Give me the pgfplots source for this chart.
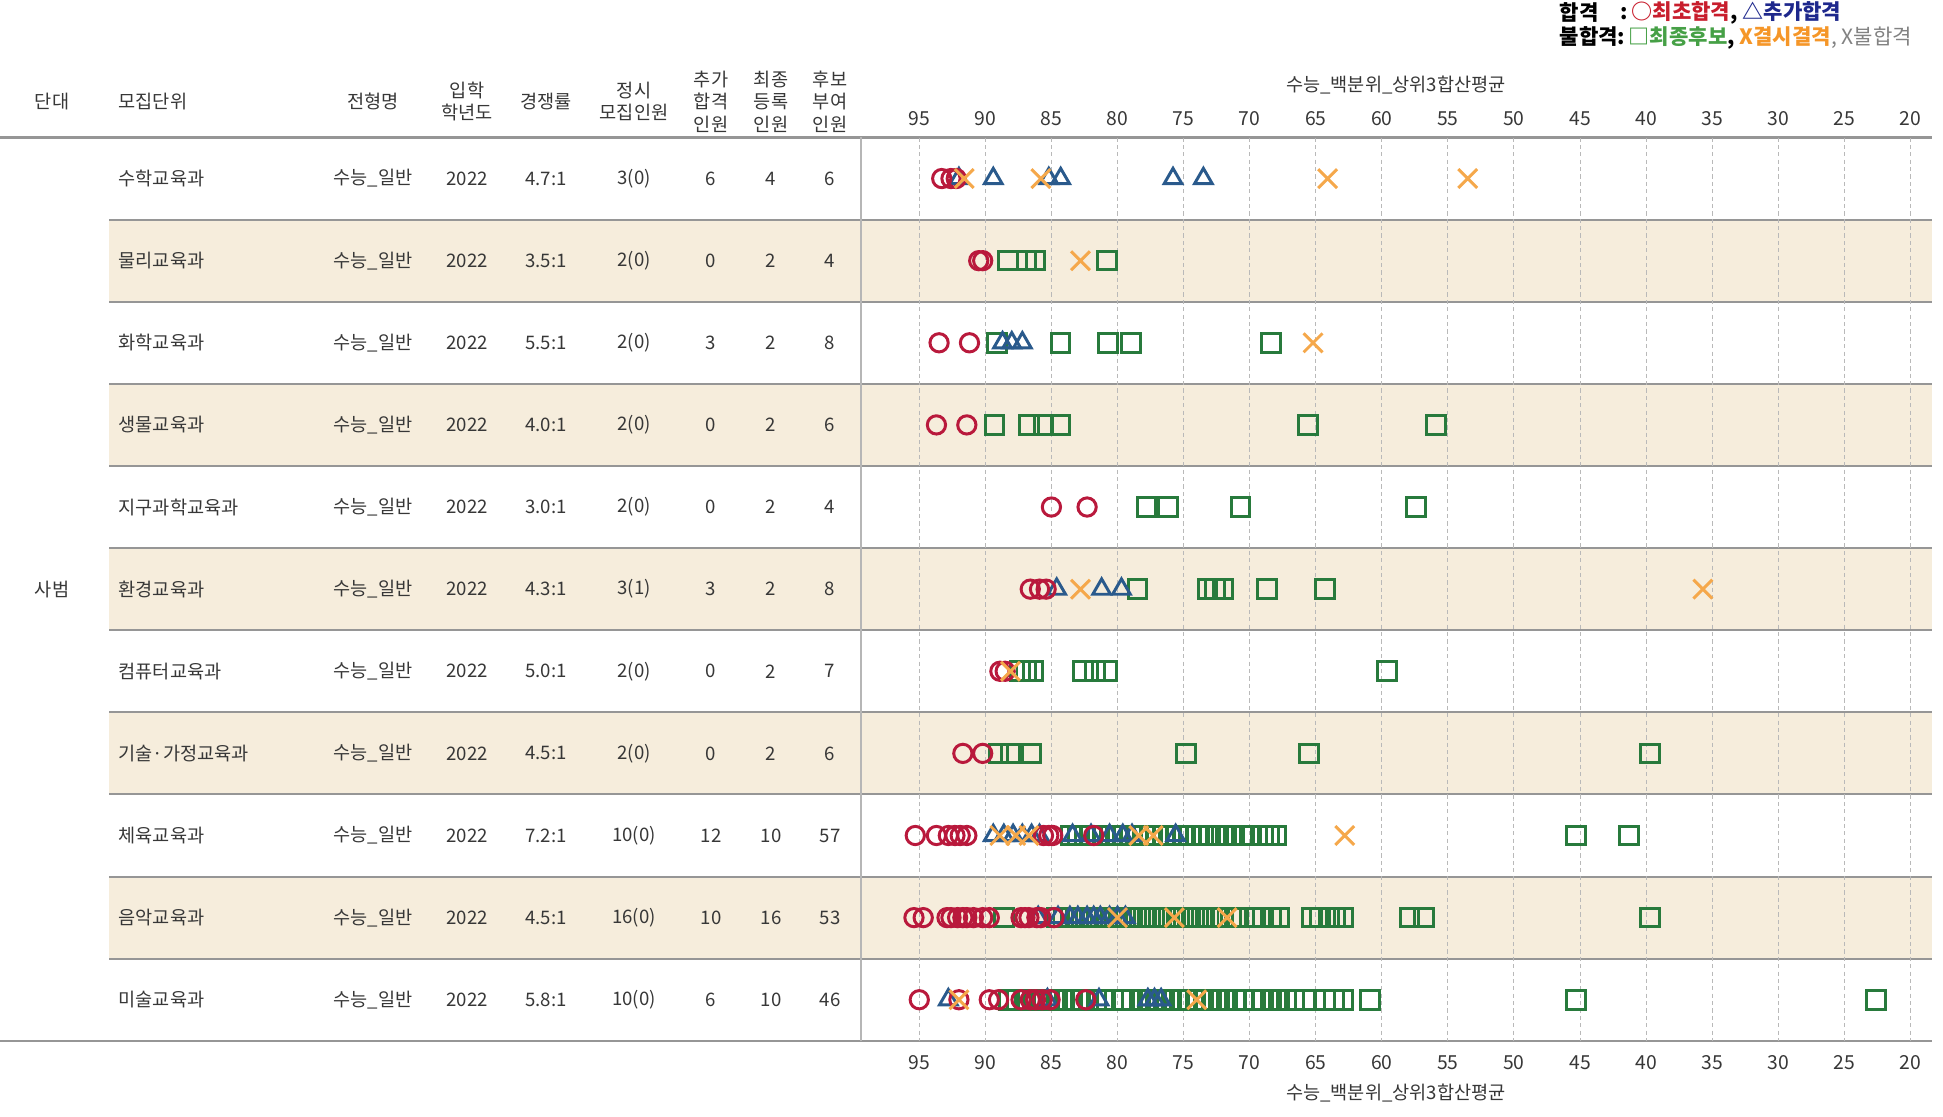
\documentclass[border=0pt]{standalone}
\usepackage{pgfplots}
\pgfplotsset{compat=1.18}
\usepackage{fontspec}
\setmainfont{Noto Sans CJK KR}
\definecolor{cred}{RGB}{185,25,60}
\definecolor{cblue}{RGB}{42,90,140}
\definecolor{cgreen}{RGB}{40,122,60}
\definecolor{corange}{RGB}{245,168,75}
\definecolor{cbeige}{RGB}{246,237,220}
\definecolor{cline}{RGB}{150,150,150}
\definecolor{cgrid}{RGB}{185,185,185}
\definecolor{ctext}{RGB}{55,55,55}
\definecolor{lred}{RGB}{200,30,45}
\definecolor{lblue}{RGB}{30,40,140}
\definecolor{lgreen}{RGB}{70,160,70}
\definecolor{lorange}{RGB}{245,150,40}
\definecolor{lgray}{RGB}{130,130,130}
\pgfplotsset{
  baseax/.style={
    at={(86.1mm,-13.75mm)}, anchor=north west,
    width=107.1mm, height=90.33mm, scale only axis,
    x dir=reverse, xmin=18.37, xmax=99.41,
    y dir=reverse, ymin=0.5, ymax=11.5,
    axis line style={draw=none},
    ytick=\empty,
    xtick={20,25,...,95},
    major tick length=0pt,
    /pgf/number format/assume math mode=true,
    clip=false,
  },
}
\begin{document}
\begin{tikzpicture}
\fontsize{5.3}{6.3}\selectfont
\begin{scope}[x=0.1mm,y=-0.1mm]
\path[use as bounding box] (0,0) rectangle (1943,1117);
\foreach \r in {2,4,6,8,10} {
  \fill[cbeige] (109,{137.5+82.12*(\r-1)}) rectangle (1932,{137.5+82.12*\r});
}
\foreach \r in {1,...,10} {
  \draw[cline, line width=0.55pt] (109,{137.5+82.12*\r}) -- (1932,{137.5+82.12*\r});
}
\draw[cline, line width=0.6pt] (0,137.5) -- (1932,137.5);
\draw[cline, line width=0.6pt] (0,1040.8) -- (1932,1040.8);
\draw[cline!70, line width=0.35pt] (861,137.5) -- (861,1040.8);
\end{scope}

\begin{axis}[baseax,
  xmajorgrids,
  major grid style={cgrid, line width=0.3pt, dash pattern=on 1.2pt off 0.9pt},
  xticklabel pos=lower,
  xticklabel style={anchor=center, yshift=-2.2mm, text=ctext, font=\fontsize{5.5}{6}\selectfont},
  only marks,
]
% squares (최종후보)
\addplot[cgreen, line width=0.85pt, mark=square, mark size=2.65pt] coordinates {
(88.3,2)(86.9,2)(86.2,2)(80.8,2)
(89.1,3)(84.3,3)(80.7,3)(79.0,3)(68.4,3)
(89.3,4)(86.7,4)(85.6,4)(84.3,4)(65.6,4)(55.9,4)
(77.8,5)(76.2,5)(70.7,5)(57.4,5)
(78.5,6)(73.2,6)(72.6,6)(72.0,6)(68.7,6)(64.3,6)
(87.4,7)(86.9,7)(86.4,7)(82.6,7)(81.7,7)(80.8,7)(59.6,7)
(89.0,8)(88.1,8)(86.5,8)(74.8,8)(65.5,8)(39.7,8)
(83.5,9)(83.0,9)(82.5,9)(82.0,9)(81.5,9)(81.0,9)(80.5,9)(80.0,9)(79.5,9)(79.0,9)(78.5,9)(78.0,9)(77.5,9)(77.0,9)(76.5,9)(76.0,9)(75.5,9)(75.0,9)(74.5,9)(74.0,9)(73.5,9)(73.0,9)(72.4,9)(71.8,9)(71.2,9)(70.6,9)(70.0,9)(69.0,9)(68.5,9)(68.0,9)(45.3,9)(41.3,9)
(88.6,10)(84.6,10)(84.1,10)(83.5,10)(83.0,10)(82.4,10)(81.9,10)(81.3,10)(80.8,10)(80.2,10)(79.7,10)(79.1,10)(78.6,10)(78.0,10)(77.5,10)(76.9,10)(76.4,10)(75.8,10)(75.3,10)(74.7,10)(74.2,10)(73.6,10)(73.1,10)(72.5,10)(72.0,10)(71.4,10)(70.9,10)(69.6,10)(69.0,10)(68.4,10)(67.8,10)(65.3,10)(64.7,10)(64.0,10)(63.5,10)(62.9,10)(57.9,10)(56.8,10)(39.7,10)
(88.2,11)(87.6,11)(87.0,11)(86.4,11)(85.8,11)(85.2,11)(84.6,11)(84.0,11)(83.4,11)(82.8,11)(82.2,11)(81.6,11)(81.1,11)(79.5,11)(78.9,11)(78.3,11)(77.7,11)(77.1,11)(76.5,11)(75.9,11)(75.3,11)(74.7,11)(74.1,11)(73.5,11)(72.9,11)(72.3,11)(71.7,11)(71.1,11)(70.5,11)(69.6,11)(69.0,11)(68.4,11)(67.8,11)(67.2,11)(66.6,11)(65.8,11)(64.3,11)(63.6,11)(62.9,11)(60.9,11)(45.3,11)(22.6,11)
};
% triangles (추가합격)
\addplot[cblue, line width=0.85pt, mark=triangle, mark size=2.9pt] coordinates {
(92.0,1)(89.4,1)(85.2,1)(84.3,1)(75.8,1)(73.5,1)
(88.7,3)(88.0,3)(87.2,3)
(84.6,6)(81.2,6)(79.7,6)
(89.4,9)(88.6,9)(87.9,9)(87.2,9)(86.5,9)(85.9,9)(83.4,9)(82.0,9)(80.6,9)(79.6,9)(78.9,9)(75.6,9)
(86.0,10)(84.5,10)(83.6,10)(83.0,10)(82.3,10)(81.8,10)(81.3,10)(80.6,10)(80.0,10)(79.4,10)
(92.8,11)(85.3,11)(81.4,11)(77.7,11)(77.2,11)(76.7,11)
};
% circles (최초합격)
\addplot[cred, line width=0.85pt, mark=o, mark size=2.6pt] coordinates {
(93.3,1)(92.6,1)(92.2,1)
(90.5,2)(90.2,2)
(93.5,3)(91.2,3)
(93.7,4)(91.4,4)
(85.0,5)(82.3,5)
(86.6,6)(85.9,6)(85.4,6)
(88.9,7)(88.5,7)
(91.7,8)(90.2,8)
(95.3,9)(93.7,9)(92.8,9)(92.3,9)(91.9,9)(91.4,9)(85.6,9)(85.2,9)(84.9,9)(81.8,9)
(95.4,10)(94.7,10)(92.9,10)(92.6,10)(92.1,10)(91.7,10)(91.4,10)(90.9,10)(90.2,10)(89.7,10)(87.3,10)(87.0,10)(86.7,10)(86.1,10)(85.8,10)(84.8,10)
(95.0,11)(92.0,11)(89.7,11)(89.0,11)(87.3,11)(86.6,11)(86.2,11)(85.7,11)(85.1,11)(82.4,11)
};
% x (결시결격)
\addplot[corange, line width=0.85pt, mark=x, mark size=3.8pt] coordinates {
(91.6,1)(85.8,1)(64.1,1)(53.5,1)
(82.8,2)
(65.2,3)
(82.8,6)(35.7,6)
(88.1,7)
(88.9,9)(87.7,9)(86.7,9)(78.4,9)(77.3,9)(62.8,9)
(80.0,10)(75.7,10)(71.7,10)
(92.0,11)(74.0,11)
};
\end{axis}

\begin{axis}[baseax,
  xticklabel pos=upper,
  xticklabel style={anchor=center, yshift=1.85mm, text=ctext, font=\fontsize{5.5}{6}\selectfont},
]
\end{axis}

\begin{scope}[x=0.1mm,y=-0.1mm, every node/.style={text=ctext, inner sep=0pt}]
% axis titles
\node at (1396,85.5) {수능\_백분위\_상위3합산평균};
\node at (1396,1093) {수능\_백분위\_상위3합산평균};
% legend
\begin{scope}[every node/.style={inner sep=0pt, anchor=west}]
\node[font=\fontsize{6}{7}\selectfont\bfseries] at (1559,13) {합격};
\node[font=\fontsize{6}{7}\selectfont\bfseries] at (1620,13) {:\,\textcolor{lred}{○최초합격}, \textcolor{lblue}{△추가합격}};
\node[font=\fontsize{6}{7}\selectfont] at (1559,38) {\textbf{불합격:}\,\textcolor{lgreen}{\textbf{□최종후보}}\textbf{,} \textcolor{lorange}{\textbf{X결시결격}}\textcolor{lgray}{, X불합격}};
\end{scope}
% header
\node at (52,101.6) {단대};
\node[anchor=west] at (118,101.6) {모집단위};
\node at (373,101.6) {전형명};
\node at (467,90.5) {입학};
\node at (467,112.7) {학년도};
\node at (546,101.6) {경쟁률};
\node at (634,90.5) {정시};
\node at (634,112.7) {모집인원};
\node at (711,79.3) {추가};
\node at (711,101.6) {합격};
\node at (711,123.9) {인원};
\node at (771,79.3) {최종};
\node at (771,101.6) {등록};
\node at (771,123.9) {인원};
\node at (830,79.3) {후보};
\node at (830,101.6) {부여};
\node at (830,123.9) {인원};
\node at (52,589.8) {사범};
% rows
\foreach \i/\n/\c/\m/\a/\f/\h in {
 1/수학교육과/4.7:1/3(0)/6/4/6,
 2/물리교육과/3.5:1/2(0)/0/2/4,
 3/화학교육과/5.5:1/2(0)/3/2/8,
 4/생물교육과/4.0:1/2(0)/0/2/6,
 5/지구과학교육과/3.0:1/2(0)/0/2/4,
 6/환경교육과/4.3:1/3(1)/3/2/8,
 7/컴퓨터교육과/5.0:1/2(0)/0/2/7,
 8/기술·가정교육과/4.5:1/2(0)/0/2/6,
 9/체육교육과/7.2:1/10(0)/12/10/57,
 10/음악교육과/4.5:1/16(0)/10/16/53,
 11/미술교육과/5.8:1/10(0)/6/10/46} {
  \pgfmathsetmacro{\yy}{137.5+82.12*(\i-0.5)}
  \node[anchor=west] at (118,\yy) {\n};
  \node at (373,\yy) {수능\_일반};
  \node at (467,\yy) {2022};
  \node at (546,\yy) {\c};
  \node at (634,\yy) {\m};
  \node at (711,\yy) {\a};
  \node at (771,\yy) {\f};
  \node at (830,\yy) {\h};
}
\end{scope}
\end{tikzpicture}
\end{document}
